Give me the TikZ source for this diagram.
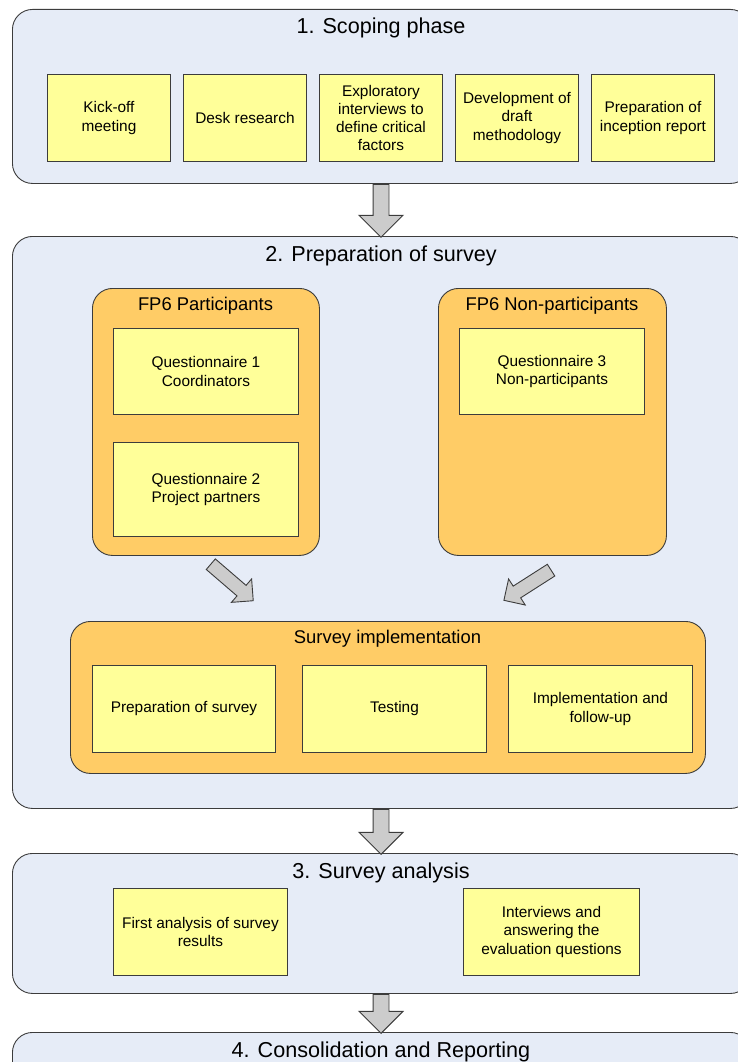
\documentclass[tikz,border=0pt]{standalone}
\usepackage{fontspec}
\setmainfont{Liberation Sans}
\usetikzlibrary{positioning, calc, shapes.arrows}
\definecolor{panelblue}{RGB}{230,236,247}
\definecolor{grouporange}{RGB}{255,204,102}
\definecolor{taskyellow}{RGB}{255,255,153}
\definecolor{arrowgray}{RGB}{204,204,204}
\definecolor{edgegray}{RGB}{60,60,60}
\tikzset{
    panel/.style={draw=edgegray, fill=panelblue, rounded corners=20pt, line width=0.9pt, anchor=north west, minimum width=738pt},
    group/.style={draw=edgegray, fill=grouporange, rounded corners=20pt, line width=0.9pt, anchor=north west},
    task/.style={draw=edgegray, fill=taskyellow, line width=0.9pt, align=center, inner sep=2pt, anchor=north west,
        font=\fontsize{15.4}{18.3}\selectfont},
    tasksize/.style 2 args={minimum width=#1pt, minimum height=#2pt},
    paneltitle/.style={font=\fontsize{21.6}{24}\selectfont, anchor=base},
    grouptitle/.style={font=\fontsize{18.4}{21}\selectfont, anchor=base},
    % fat grey arrows between the stages
    stagearrow/.style={single arrow, draw=edgegray, fill=arrowgray, line width=0.9pt, inner sep=0pt, inner ysep=7.5pt,
        single arrow head extend=14pt, minimum height=#1, anchor=tail, rotate=-90},
    feedarrow/.style={single arrow, draw=edgegray, fill=arrowgray, line width=0.9pt, inner sep=0pt, inner ysep=6.5pt,
        single arrow head extend=8.5pt, minimum height=56pt, anchor=tail},
}

\begin{document}
\begin{tikzpicture}[x=1pt, y=-1pt]
    \useasboundingbox (0,0) rectangle (738,1062);
    \clip (0,0) rectangle (738,1062);

    % stage 1
    \node[panel, minimum height=174pt] (scope) at (12,9) {};
    \node[paneltitle] (scopetitle) at (381,34) {1. Scoping phase};
    \node[task, tasksize={123}{87}] (kickoff) at (47,74) {Kick-off\\meeting};
    \node[task, tasksize={123}{87}, right=12.1pt of kickoff] (desk) {Desk research};
    \node[task, tasksize={123}{87}, right=12.1pt of desk] (explore) {Exploratory\\interviews to\\define critical\\factors};
    \node[task, tasksize={123}{87}, right=12.1pt of explore] (draft) {Development of\\draft\\methodology};
    \node[task, tasksize={123}{87}, right=12.1pt of draft] (inception) {Preparation of\\inception report};

    % stage 2
    \node[panel, minimum height=572pt] (prep) at (12,236) {};
    \node[paneltitle] (preptitle) at (381,261) {2. Preparation of survey};

    \node[group, minimum width=227pt, minimum height=267pt] (part) at (92,288) {};
    \node[grouptitle] (parttitle) at (205.5,310) {FP6 Participants};
    \node[task, tasksize={185}{86}] (quest1) at (113,328) {Questionnaire 1\\Coordinators};
    \node[task, tasksize={185}{94}] (quest2) at (113,442) {Questionnaire 2\\Project partners};

    \node[group, minimum width=228pt, minimum height=267pt] (nonpart) at (438,288) {};
    \node[grouptitle] (nonparttitle) at (552,310) {FP6 Non-participants};
    \node[task, tasksize={185}{86}] (quest3) at (459,328) {Questionnaire 3\\Non-participants};

    \node[group, minimum width=635pt, minimum height=152pt] (impl) at (70,621) {};
    \node[grouptitle] (impltitle) at (387.5,643) {Survey implementation};
    \node[task, tasksize={183}{87}] (prepsurvey) at (92,665) {Preparation of survey};
    \node[task, tasksize={184}{87}, right=26.1pt of prepsurvey] (testing) {Testing};
    \node[task, tasksize={184}{87}, right=21.1pt of testing] (followup) {Implementation and\\follow-up};

    \node[feedarrow, rotate=-40.7] (partarrow) at ($(part.south)+(4.5,8)$) {};
    \node[feedarrow, rotate=-147.4] (nonpartarrow) at ($(nonpart.south)+(-1,14)$) {};

    % stage 3
    \node[panel, minimum height=140pt] (analysis) at (12,853) {};
    \node[paneltitle] (analysistitle) at (381,878) {3. Survey analysis};
    \node[task, tasksize={174}{87}] (firstanalysis) at (113,888) {First analysis of survey\\results};
    \node[task, tasksize={176}{87}] (interviews) at (463,888) {Interviews and\\answering the\\evaluation questions};

    % stage 4
    \node[panel, minimum height=80pt] (report) at (12,1032) {};
    \node[paneltitle] (reporttitle) at (381,1057) {4. Consolidation and Reporting};

    \node[stagearrow=53pt] (arrow1) at (scope.south -| scopetitle) {};
    \node[stagearrow=45pt] (arrow2) at (prep.south -| preptitle) {};
    \node[stagearrow=39pt] (arrow3) at (analysis.south -| analysistitle) {};
\end{tikzpicture}
\end{document}
